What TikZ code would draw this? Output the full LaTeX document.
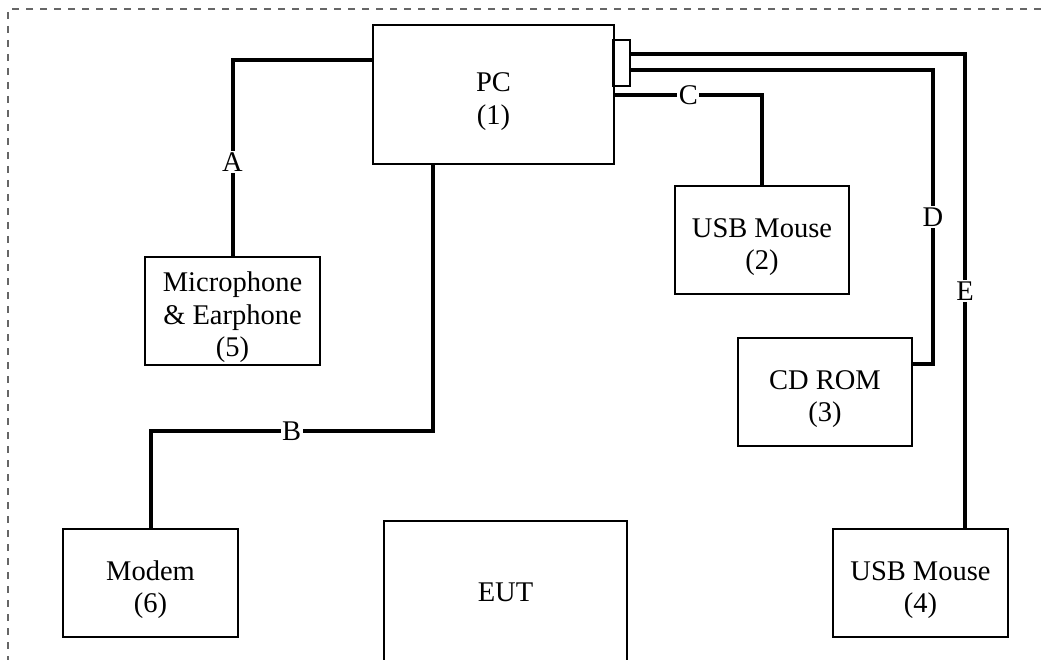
\documentclass[tikz,border=0pt]{standalone}
\usepackage{fontspec}
\setmainfont{Liberation Serif}
\newcommand{\boxstrut}{\rule{0pt}{33pt}}
\begin{document}
\begin{tikzpicture}[x=1pt,y=-1pt,
  box/.style={draw,line width=1.1pt,align=center,inner sep=0pt,font=\fontsize{28.5}{32.5}\selectfont},
  cable/.style={line width=4pt},
  lab/.style={fill=white,inner sep=1.5pt,font=\fontsize{28.5}{32.5}\selectfont},
  border/.style={draw=black!60,line width=1.2pt,dash pattern=on 7pt off 7pt}]
\useasboundingbox (0,0) rectangle (1041,660);
\clip (0,0) rectangle (1041,660);
% dashed enclosure
\coordinate (btr) at (1041,9);
\coordinate (btl) at (8,9);
\coordinate (bbl) at (8,660);
\draw[border] (btr) -- (btl) -- (bbl);
% equipment
\node[box,minimum width=241pt,minimum height=139pt] (pc) at (493.5,94.5) {\boxstrut PC\\(1)};
\node[box,minimum width=17pt,minimum height=46pt] (port) at (621.5,63) {};
\node[box,minimum width=174pt,minimum height=108pt] (usb2) at (762,240) {\boxstrut USB Mouse\\(2)};
\node[box,minimum width=174pt,minimum height=108pt] (cd) at (825,392) {\boxstrut CD ROM\\(3)};
\node[box,minimum width=175pt,minimum height=108pt] (usb4) at (920.5,583) {\boxstrut USB Mouse\\(4)};
\node[box,minimum width=175pt,minimum height=108pt] (mic) at (232.5,311) {\boxstrut Microphone\\\& Earphone\\(5)};
\node[box,minimum width=175pt,minimum height=108pt] (modem) at (150.5,583) {\boxstrut Modem\\(6)};
\node[box,minimum width=243pt,minimum height=142pt] (eut) at (505.5,592) {EUT};
% routing points
\coordinate (a1) at (232.5,60);
\coordinate (b1) at (433,431);
\coordinate (b2) at (150.5,431);
\coordinate (c1) at (762,95);
\coordinate (d1) at (933,70);
\coordinate (d2) at (933,364);
\coordinate (e1) at (965,54);
% cables
\draw[cable] (pc.west |- a1) -- (a1) -- node[lab,pos=0.52]{A} (mic.north);
\draw[cable] (pc.south -| b1) -- (b1) -- node[lab]{B} (b2) -- (modem.north);
\draw[cable] (pc.east |- c1) -- node[lab]{C} (c1) -- (usb2.north);
\draw[cable] (port.east |- d1) -- (d1) -- node[lab]{D} (d2) -- (cd.east |- d2);
\draw[cable] (port.east |- e1) -- (e1) -- node[lab]{E} (e1 |- usb4.north);
\end{tikzpicture}
\end{document}
